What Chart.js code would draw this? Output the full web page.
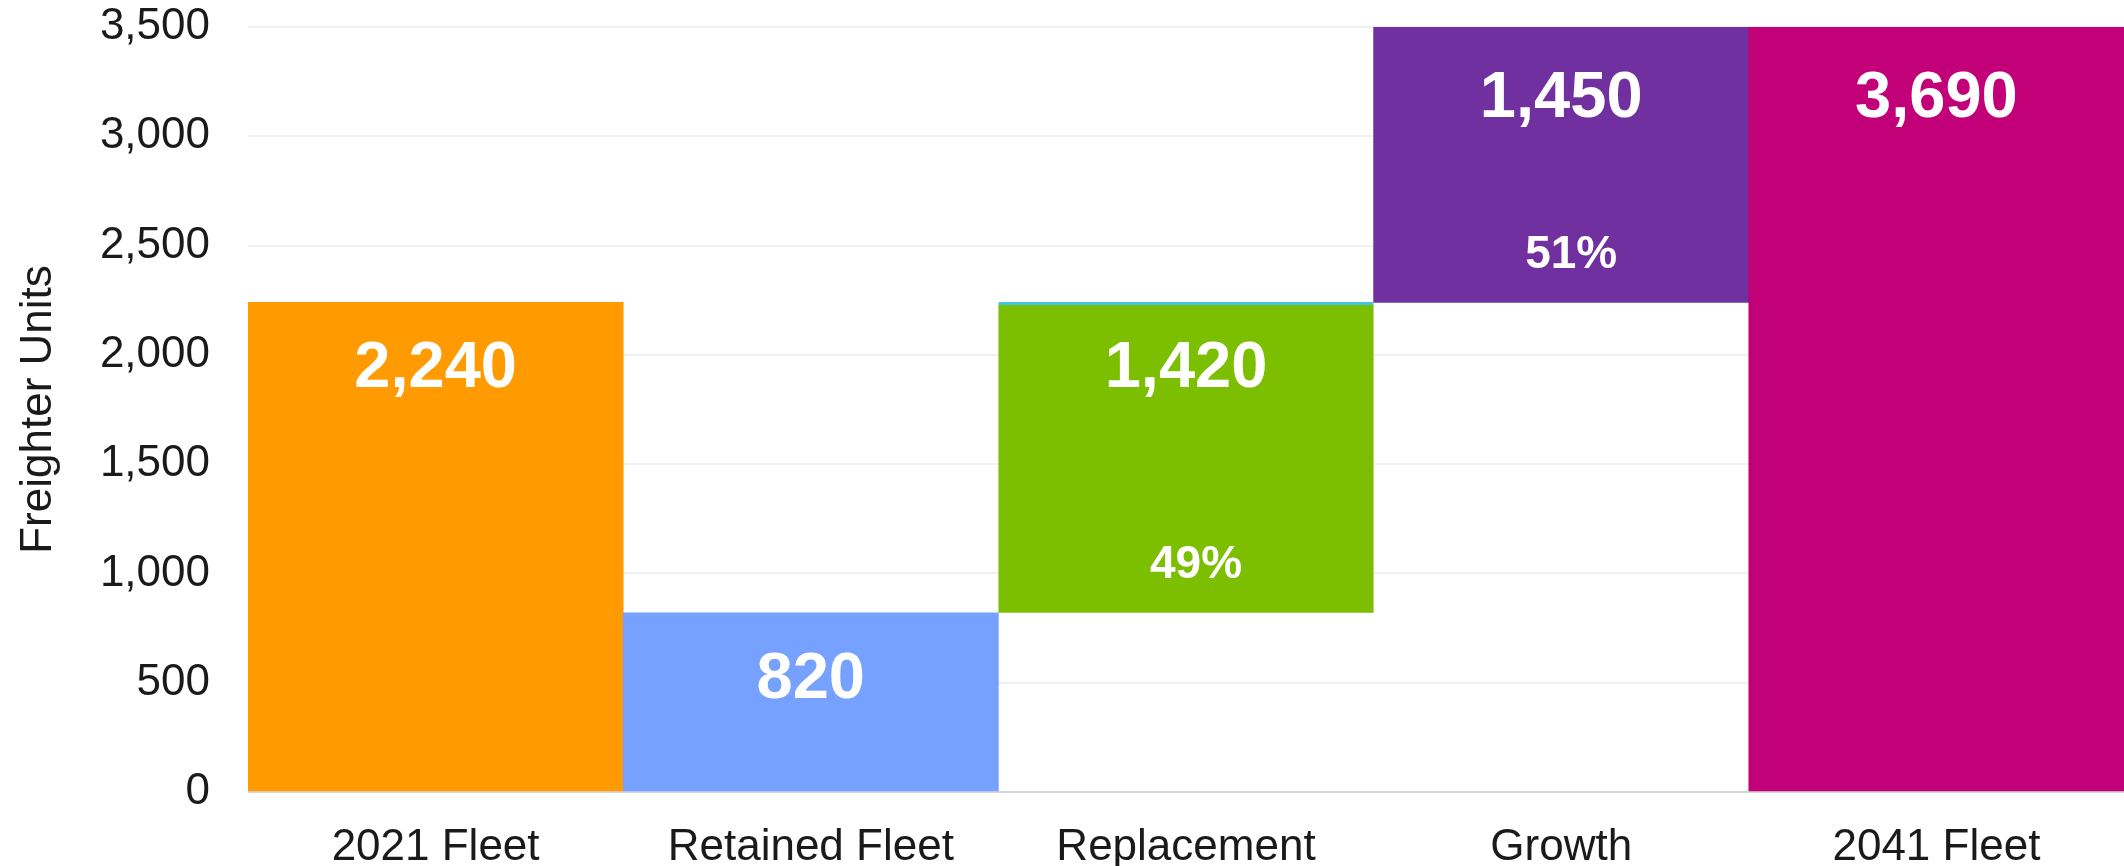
<!DOCTYPE html>
<html>
<head>
<meta charset="utf-8">
<title>Freighter Units</title>
<script src="https://cdn.jsdelivr.net/npm/chart.js@4.4.1/dist/chart.umd.min.js"></script>
<style>
    html, body { margin: 0; padding: 0; background: #ffffff; }
    #wrap { width: 2124px; height: 866px; position: relative; }
</style>
</head>
<body>
<div id="wrap"><canvas id="fleetChart"></canvas></div>
<script>
// Chart data
const categories = ['2021 Fleet', 'Retained Fleet', 'Replacement', 'Growth', '2041 Fleet'];
const barStarts = [0, 0, 820, 2240, 0];
const barEnds = [2240, 820, 2240, 3690, 3690];
const sharePct = [null, null, 49, 51, null];
const yTicks = [0, 500, 1000, 1500, 2000, 2500, 3000, 3500];

const barColors = ['#ff9a00', '#76a1ff', '#7cbe00', '#7030a0', '#c20077'];
const FONT = '"Liberation Sans", Arial, Helvetica, sans-serif';

// Draw the white value labels and the share percentages inside the bars
const barLabels = {
    id: 'barLabels',
    afterDatasetsDraw(chart) {
        const ctx = chart.ctx;
        const area = chart.chartArea;
        const meta = chart.getDatasetMeta(0);
        ctx.save();
        ctx.fillStyle = '#ffffff';
        ctx.textAlign = 'center';
        ctx.textBaseline = 'middle';
        meta.data.forEach(function (bar, i) {
            const rawTop = Math.min(bar.y, bar.base);
            const clipped = rawTop < area.top;
            const top = clipped ? area.top : rawTop;
            const bottom = Math.max(bar.y, bar.base);
            const value = barEnds[i] - barStarts[i];
            ctx.font = 'bold 65px ' + FONT;
            ctx.fillText(value.toLocaleString('en-US'), bar.x, top + (clipped ? 72 : 67));
            if (sharePct[i] !== null) {
                ctx.font = 'bold 46px ' + FONT;
                ctx.fillText(sharePct[i] + '%', bar.x + 10, bottom - 47);
            }
        });
        ctx.restore();
    }
};

const ctx = document.getElementById('fleetChart').getContext('2d');
new Chart(ctx, {
    type: 'bar',
    data: {
        labels: categories,
        datasets: [{
            data: categories.map((c, i) => [barStarts[i], barEnds[i]]),
            backgroundColor: barColors,
            borderColor: categories.map((c, i) => i === 2 ? '#3fc6e6' : 'rgba(0,0,0,0)'),
            borderWidth: categories.map((c, i) => i === 2 ? { top: 3, left: 0, right: 0, bottom: 0 } : 0),
            borderSkipped: false,
            barPercentage: 1.0,
            categoryPercentage: 1.0
        }]
    },
    options: {
        responsive: true,
        maintainAspectRatio: false,
        animation: false,
        layout: { padding: { top: 27, right: 0, bottom: 0, left: 0 } },
        plugins: {
            legend: { display: false },
            tooltip: { enabled: false }
        },
        scales: {
            x: {
                grid: { display: false, drawTicks: false },
                border: { display: false },
                ticks: {
                    padding: 29,
                    color: '#1a1a1a',
                    font: { family: FONT, size: 44 }
                },
                afterFit: function (scale) { scale.height = 74; }
            },
            y: {
                min: 0,
                max: 3500,
                afterBuildTicks: function (scale) {
                    scale.ticks = yTicks.map(v => ({ value: v }));
                },
                grid: {
                    drawTicks: false,
                    lineWidth: 2,
                    color: c => c.tick && c.tick.value === 0 ? '#d6d6d6' : '#f0f0f0'
                },
                border: { display: false },
                ticks: {
                    padding: 38,
                    color: '#1a1a1a',
                    font: { family: FONT, size: 44 },
                    callback: v => v.toLocaleString('en-US')
                },
                title: {
                    display: true,
                    text: 'Freighter Units',
                    color: '#1a1a1a',
                    font: { family: FONT, size: 44 },
                    padding: { top: 12, bottom: 0 }
                },
                afterFit: function (scale) {
                    scale.width = 248;
                    scale.paddingTop = 0;
                    scale.paddingBottom = 0;
                }
            }
        }
    },
    plugins: [barLabels]
});
</script>
</body>
</html>
